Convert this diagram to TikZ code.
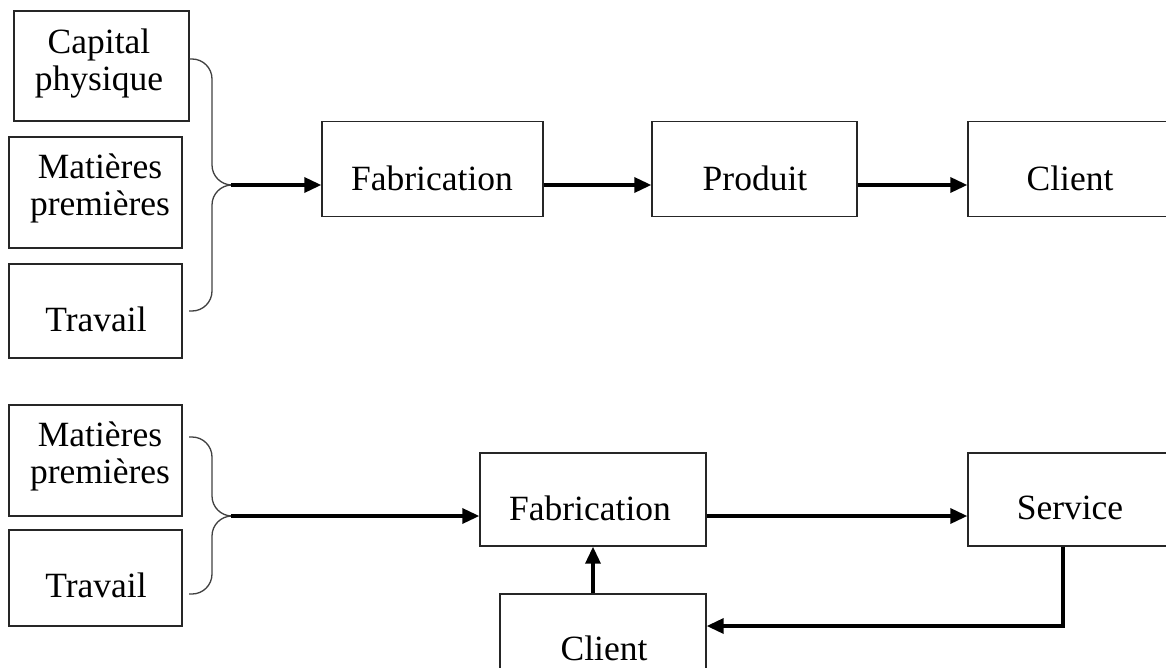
\documentclass[tikz,border=0pt]{standalone}
\usepackage{fontspec}
\setmainfont{Liberation Serif}
\usetikzlibrary{arrows.meta}
\tikzset{
  box/.style={draw=black!85, line width=1.4pt, inner sep=0pt, fill=white},
  lbl/.style={inner sep=0pt, align=center, font=\fontsize{35.5}{37}\selectfont},
  arr/.style={line width=3.4pt, -{Triangle[length=17pt,width=15pt]}},
  brace/.style={draw=black!75, line width=1.3pt, rounded corners=20pt}
}
\begin{document}
\begin{tikzpicture}[x=1pt,y=-1pt]
\useasboundingbox (0,0) rectangle (1166,668);
\clip (0,0) rectangle (1166,668);

% upper chain: goods
\node[box, minimum width=175, minimum height=110] (cap) at (101.5,66) {};
\node[lbl] at (99,64) {Capital\\physique};
\node[box, minimum width=173, minimum height=111] (mat1) at (95.5,192.5) {};
\node[lbl] at (100,188) {Matières\\premières};
\node[box, minimum width=173, minimum height=94] (trv1) at (95.5,311) {};
\node[lbl] at (96,319) {Travail};

\node[box, minimum width=221, minimum height=95] (fab1) at (432.5,169) {};
\node[lbl] at (432,178) {Fabrication};
\node[box, minimum width=205, minimum height=95] (prod) at (754.5,169) {};
\node[lbl] at (755,178) {Produit};
\node[box, minimum width=212, minimum height=95] (cli1) at (1074,169) {};
\node[lbl] at (1070,178) {Client};

% brace gathering the inputs
\coordinate (tip1) at (231,185);
\draw[brace] (cap.east |- 0,59) -- (212,59) -- (212,185) -- (tip1);
\draw[brace] (tip1) -- (212,185) -- (212,311) -- (189,311);

\draw[arr] (tip1) -- (fab1.west |- tip1);
\draw[arr] (fab1.east |- tip1) -- (prod.west |- tip1);
\draw[arr] (prod.east |- tip1) -- (cli1.west |- tip1);

% lower chain: services
\node[box, minimum width=173, minimum height=111] (mat2) at (95.5,460.5) {};
\node[lbl] at (100,456) {Matières\\premières};
\node[box, minimum width=173, minimum height=96] (trv2) at (95.5,578) {};
\node[lbl] at (96,585) {Travail};

\node[box, minimum width=226, minimum height=93] (fab2) at (593,499.5) {};
\node[lbl] at (590,508) {Fabrication};
\node[box, minimum width=212, minimum height=93] (svc) at (1074,499.5) {};
\node[lbl] at (1070,508) {Service};
\node[box, minimum width=206, minimum height=96] (cli2) at (603,642) {};
\node[lbl] at (604,648) {Client};

\coordinate (tip2) at (231,516);
\draw[brace] (189,437) -- (212,437) -- (212,516) -- (tip2);
\draw[brace] (tip2) -- (212,516) -- (212,594) -- (189,594);

\draw[arr] (tip2) -- (fab2.west |- tip2);
\draw[arr] (fab2.east |- 0,516) -- (svc.west |- 0,516);

\coordinate (turn) at (1063,626);
\draw[line width=3.4pt] (svc.south -| turn) -- ([yshift=1.7pt]turn);
\draw[arr] ([xshift=1.7pt]turn) -- (cli2.east |- turn);
\draw[arr] (fab2.south |- cli2.north) -- (fab2.south);
\end{tikzpicture}
\end{document}
